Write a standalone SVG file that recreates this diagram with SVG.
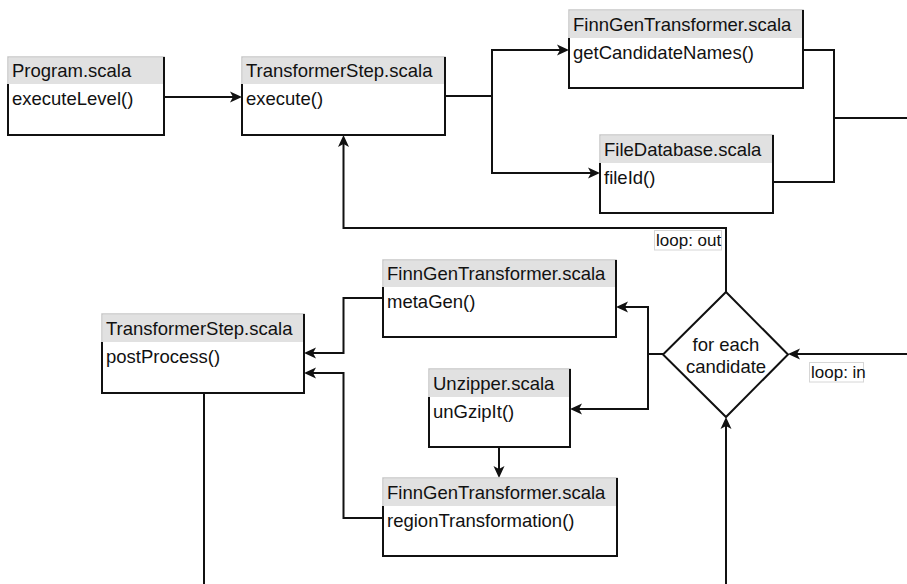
<svg xmlns="http://www.w3.org/2000/svg" width="907" height="584" viewBox="0 0 907 584">
  <style>
    .frame { fill: #ffffff; stroke: #c8c8c8; stroke-width: 1.5; }
    .head { fill: #e1e1e1; stroke: none; }
    .edge { fill: none; stroke: #111111; stroke-width: 2; }
    .title, .row { font-family: "Liberation Sans", Arial, Helvetica, sans-serif; font-size: 18.5px; fill: #111111; }
    .diag { font-family: "Liberation Sans", Arial, Helvetica, sans-serif; font-size: 18.5px; fill: #111111; text-anchor: middle; }
    .lbl-box { fill: #ffffff; stroke: #d6d6d6; stroke-width: 1; }
    .lbl { font-family: "Liberation Sans", Arial, Helvetica, sans-serif; font-size: 17px; fill: #111111; }
    .wire { fill: none; stroke: #111111; stroke-width: 2; }
  </style>
  <defs>
    <marker id="arrow" markerUnits="userSpaceOnUse" viewBox="-10 -7 16 14" refX="0" refY="0" markerWidth="16" markerHeight="14" orient="auto">
      <path d="M4,0 L-8,-5.5 L-5,0 L-8,5.5 Z" fill="#111111"/>
    </marker>
  </defs>

  <!-- connectors -->
  <g id="connectors">
    <!-- Program.executeLevel -> TransformerStep.execute -->
    <path class="wire" d="M164,97 H238" marker-end="url(#arrow)"/>
    <!-- execute fans out to candidate names and file id -->
    <path class="wire" d="M445,96 H492 V50 H565" marker-end="url(#arrow)"/>
    <path class="wire" d="M492,96 V173 H596" marker-end="url(#arrow)"/>
    <!-- results merge on the right and leave the frame -->
    <path class="wire" d="M803,50 H834 V182 H773"/>
    <path class="wire" d="M834,118 H907"/>
    <!-- loop: in -->
    <path class="wire" d="M907,354 H792" marker-end="url(#arrow)"/>
    <!-- loop: out back to execute -->
    <path class="wire" d="M726,292 V228 H343.5 V139" marker-end="url(#arrow)"/>
    <!-- diamond to metaGen and unGzipIt -->
    <path class="wire" d="M663,354 H648 V307 H620" marker-end="url(#arrow)"/>
    <path class="wire" d="M648,354 V409 H574" marker-end="url(#arrow)"/>
    <!-- unGzipIt -> regionTransformation -->
    <path class="wire" d="M499,447 V474" marker-end="url(#arrow)"/>
    <!-- metaGen and regionTransformation into postProcess -->
    <path class="wire" d="M383,298 H343.5 V353 H308" marker-end="url(#arrow)"/>
    <path class="wire" d="M383,518 H343.5 V373 H308" marker-end="url(#arrow)"/>
    <!-- continuation below -->
    <path class="wire" d="M204,393 V584"/>
    <path class="wire" d="M726,584 V421" marker-end="url(#arrow)"/>
  </g>

  <!-- edge labels -->
  <g id="label-loop-out">
    <rect class="lbl-box" x="654.5" y="230.5" width="67" height="19.5"/>
    <text class="lbl" x="656" y="246">loop: out</text>
  </g>
  <g id="label-loop-in">
    <rect class="lbl-box" x="809.5" y="362.5" width="54" height="19.5"/>
    <text class="lbl" x="811" y="378">loop: in</text>
  </g>

  <!-- class boxes -->
  <g id="program" transform="translate(8,57)">
    <rect class="frame" width="156" height="78"/>
    <rect class="head" x="0.75" y="0.75" width="154.5" height="26.25"/>
    <path class="edge" d="M156,0 V78 H0 V27"/>
    <text class="title" x="4" y="20">Program.scala</text>
    <text class="row" x="4" y="48">executeLevel()</text>
  </g>

  <g id="execute" transform="translate(242,57)">
    <rect class="frame" width="203" height="78"/>
    <rect class="head" x="0.75" y="0.75" width="201.5" height="26.25"/>
    <path class="edge" d="M203,0 V78 H0 V27"/>
    <text class="title" x="4" y="20">TransformerStep.scala</text>
    <text class="row" x="4" y="48">execute()</text>
  </g>

  <g id="get-candidate-names" transform="translate(569,10)">
    <rect class="frame" width="234" height="78"/>
    <rect class="head" x="0.75" y="0.75" width="232.5" height="27.25"/>
    <path class="edge" d="M234,0 V78 H0 V28"/>
    <text class="title" x="4" y="21">FinnGenTransformer.scala</text>
    <text class="row" x="4" y="49">getCandidateNames()</text>
  </g>

  <g id="file-id" transform="translate(600,135)">
    <rect class="frame" width="173" height="78"/>
    <rect class="head" x="0.75" y="0.75" width="171.5" height="27.25"/>
    <path class="edge" d="M173,0 V78 H0 V28"/>
    <text class="title" x="4" y="21">FileDatabase.scala</text>
    <text class="row" x="4" y="49">fileId()</text>
  </g>

  <g id="meta-gen" transform="translate(383,260)">
    <rect class="frame" width="233" height="77"/>
    <rect class="head" x="0.75" y="0.75" width="231.5" height="26.25"/>
    <path class="edge" d="M233,0 V77 H0 V27"/>
    <text class="title" x="4" y="20">FinnGenTransformer.scala</text>
    <text class="row" x="4" y="48">metaGen()</text>
  </g>

  <g id="post-process" transform="translate(102,314)">
    <rect class="frame" width="202" height="79"/>
    <rect class="head" x="0.75" y="0.75" width="200.5" height="27.25"/>
    <path class="edge" d="M202,0 V79 H0 V28"/>
    <text class="title" x="4" y="21">TransformerStep.scala</text>
    <text class="row" x="4" y="49">postProcess()</text>
  </g>

  <g id="unzipper" transform="translate(429,369)">
    <rect class="frame" width="141" height="78"/>
    <rect class="head" x="0.75" y="0.75" width="139.5" height="27.25"/>
    <path class="edge" d="M141,0 V78 H0 V28"/>
    <text class="title" x="4" y="21">Unzipper.scala</text>
    <text class="row" x="4" y="49">unGzipIt()</text>
  </g>

  <g id="region-transformation" transform="translate(383,478)">
    <rect class="frame" width="234" height="78"/>
    <rect class="head" x="0.75" y="0.75" width="232.5" height="27.25"/>
    <path class="edge" d="M234,0 V78 H0 V28"/>
    <text class="title" x="4" y="21">FinnGenTransformer.scala</text>
    <text class="row" x="4" y="49">regionTransformation()</text>
  </g>

  <!-- loop decision -->
  <g id="for-each-candidate">
    <path d="M726,292 L788,354.5 L726,417 L663,354.5 Z" fill="#ffffff" stroke="#111111" stroke-width="2"/>
    <text class="diag" x="726" y="350.5">for each</text>
    <text class="diag" x="726" y="372.5">candidate</text>
  </g>
</svg>
